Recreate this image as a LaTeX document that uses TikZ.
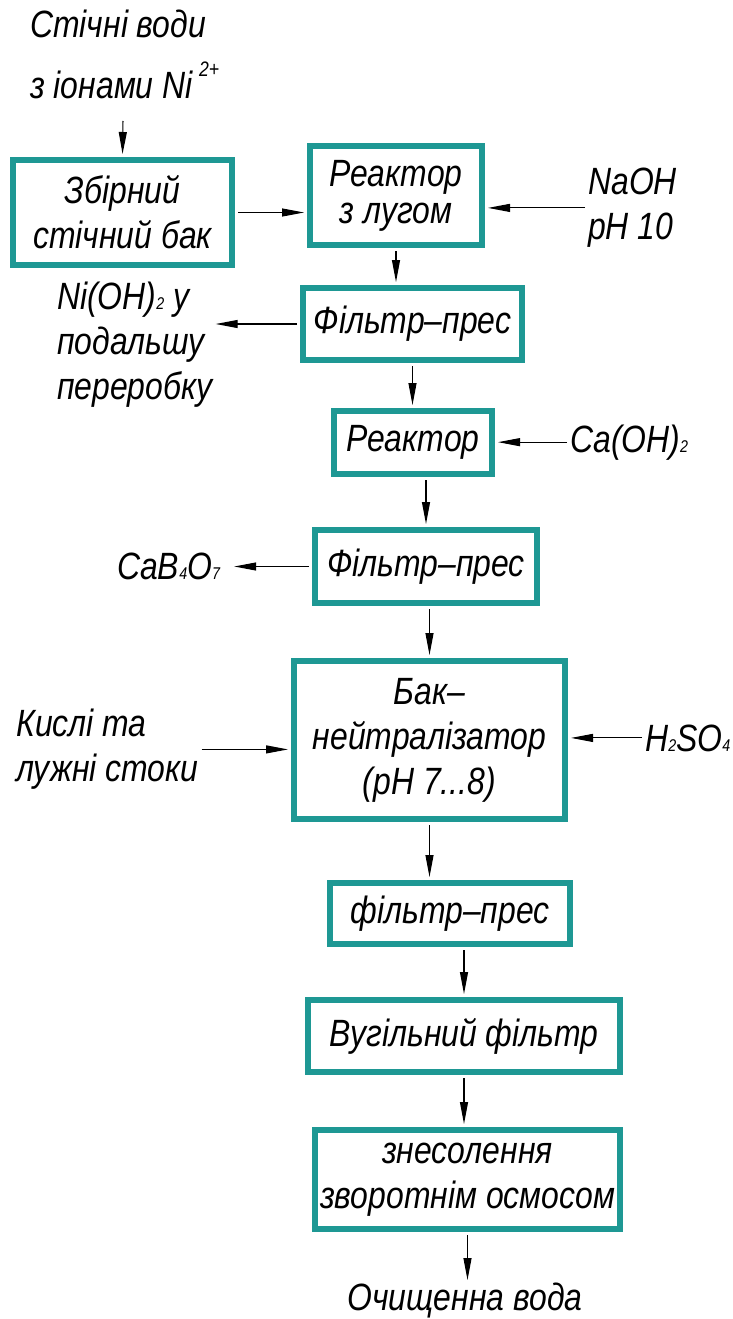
\documentclass[tikz,border=0pt]{standalone}
\usepackage{fontspec}
\setmainfont{Liberation Sans}[FakeStretch=0.84]
\usetikzlibrary{arrows.meta}
\definecolor{boxteal}{RGB}{30,152,148}
\newcommand{\chsub}[1]{{\fontsize{17}{17}\selectfont #1}}

\begin{document}
\begin{tikzpicture}[x=1pt,y=-1pt,
    every node/.style={font=\fontsize{38}{45}\selectfont\itshape, inner sep=0pt},
    proc/.style={draw=boxteal, line width=6pt, align=center, fill=white},
    lbl/.style={align=left},
    flow/.style={-{Triangle[length=22pt,width=8pt]}, line width=1.1pt, shorten >=3pt, shorten <=3pt}]
  \useasboundingbox (0,0) rectangle (733,1319);
  \node[proc, minimum width=219pt, minimum height=105pt] (zbir) at (122.5,212.5) {Збірний\\стічний бак};
  \node[proc, minimum width=172pt, minimum height=99pt] (reak1) at (396,195.5) {Реактор\\[-8pt]з лугом};
  \node[proc, minimum width=219pt, minimum height=72pt] (filt1) at (412.5,324) {Фільтр–прес};
  \node[proc, minimum width=158pt, minimum height=63pt] (reak2) at (413,442.5) {Реактор};
  \node[proc, minimum width=222pt, minimum height=73pt] (filt2) at (426,566.5) {Фільтр–прес};
  \node[proc, minimum width=271pt, minimum height=158pt] (neut) at (429.5,740) {Бак–\\нейтралізатор\\(pH 7...8)};
  \node[proc, minimum width=240pt, minimum height=61pt] (filt3) at (450,913.5) {фільтр–прес};
  \node[proc, minimum width=312pt, minimum height=72pt] (vug) at (464,1036) {Вугільний фільтр};
  \node[proc, minimum width=305pt, minimum height=99pt] (osm) at (467.5,1179.5) {знесолення\\зворотнім осмосом};

  \node[lbl, anchor=north west] (src) at (30,10) {Стічні води\\[16pt]з іонами Ni\,\raisebox{22pt}{\fontsize{21}{21}\selectfont 2+}};
  \coordinate (srcend) at (123,118);
  \node[lbl, anchor=north west] (naoh) at (588,168) {NaOH\\pH 10};
  \node[lbl, anchor=north west] (nioh) at (57,282) {Ni(OH)\chsub{2} у\\подальшу\\переробку};
  \node[anchor=base west] (caoh) at (570,452) {Ca(OH)\chsub{2}};
  \node[anchor=base west] (cab) at (117,579) {CaB\chsub{4}O\chsub{7}};
  \node[lbl, anchor=north west] (kisl) at (16,709) {Кислі та\\лужні стоки};
  \node[anchor=base west] (h2so4) at (645,751) {H\chsub{2}SO\chsub{4}};
  \node[anchor=north] (ochi) at (465,1283) {Очищенна вода};

  \draw[flow] (srcend) -- (zbir.north);
  \draw[flow] (zbir.east) -- (zbir.east -| reak1.west);
  \draw[flow] (naoh.west) -- (naoh.west -| reak1.east);
  \draw[flow] (reak1.south) -- (reak1.south |- filt1.north);
  \draw[flow] (filt1.west) -- (nioh.east |- filt1.west);
  \draw[flow] (filt1.south) -- (filt1.south |- reak2.north);
  \draw[flow] (caoh.west) -- (caoh.west -| reak2.east);
  \draw[flow] (filt2.north |- reak2.south) -- (filt2.north);
  \draw[flow, shorten >=14pt] (filt2.west) -- (cab.east |- filt2.west);
  \draw[flow] (neut.north |- filt2.south) -- (neut.north);
  \draw[flow] (kisl.east) -- (kisl.east -| neut.west);
  \draw[flow] (h2so4.west) -- (h2so4.west -| neut.east);
  \draw[flow] (neut.south) -- (neut.south |- filt3.north);
  \draw[flow] (vug.north |- filt3.south) -- (vug.north);
  \draw[flow] (vug.south) -- (vug.south |- osm.north);
  \draw[flow] (osm.south) -- (osm.south |- ochi.north);
\end{tikzpicture}
\end{document}
